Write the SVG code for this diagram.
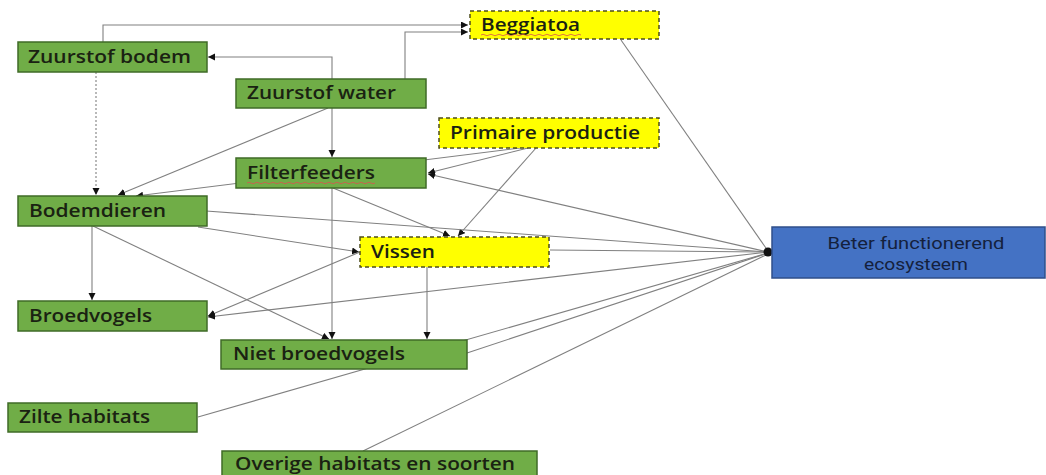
<svg xmlns="http://www.w3.org/2000/svg" width="1046" height="475" viewBox="0 0 1046 475">
<style>
.g{fill:#70ad47;stroke:#3f6b27;stroke-width:1.5}
.y{fill:#ffff00;stroke:#4d4d1a;stroke-width:1.5;stroke-dasharray:4 3}
.b{fill:#4472c4;stroke:#2f4f8a;stroke-width:1.5}
.t{font-family:"Open Sans","Liberation Sans",sans-serif;font-size:18px;font-weight:600;fill:#1a2212}
.bt{font-family:Roboto,"Liberation Sans",sans-serif;font-size:17px;fill:#14213d;text-anchor:middle}
.c{fill:none;stroke:#808080;stroke-width:1.1}
.a{marker-end:url(#ah)}
.d{stroke-dasharray:2 2}
.sp{fill:none;stroke:#d9534f;stroke-width:0.8}
</style>
<defs>
<marker id="ah" markerUnits="userSpaceOnUse" markerWidth="8" markerHeight="8" refX="7" refY="3.5" orient="auto">
<path d="M0,0 L7,3.5 L0,7 Z" fill="#111"/>
</marker>
</defs>
<rect width="1046" height="475" fill="#ffffff"/>
<g id="connectors">
<path class="c a" d="M103,42 V25 H468"/>
<path class="c a" d="M405,79 V32 H468"/>
<path class="c a" d="M332,79 V57 H208"/>
<path class="c a" d="M332,108 V157"/>
<path class="c a" d="M328,108 L118,195"/>
<path class="c a d" d="M96,72 V195"/>
<path class="c a" d="M520,148 L136,196"/>
<path class="c a" d="M528,148 L428,173"/>
<path class="c a" d="M536,148 L458,236"/>
<path class="c a" d="M768,252 L428,174"/>
<path class="c a" d="M333,188 L450,236"/>
<path class="c a" d="M332,188 V339"/>
<path class="c" d="M206,211 L768,252"/>
<path class="c a" d="M198,227 L359,252"/>
<path class="c a" d="M92,226 V300"/>
<path class="c a" d="M93,226 L329,339"/>
<path class="c a" d="M360,252 L208,316"/>
<path class="c a" d="M768,252 L208,317"/>
<path class="c a" d="M427,267 V339"/>
<path class="c" d="M550,250 L768,252"/>
<path class="c" d="M621,40 L768,251"/>
<path class="c" d="M467,353 L768,253"/>
<path class="c" d="M198,417 L768,253"/>
<path class="c" d="M363,451 L768,254"/>
<circle cx="768" cy="252" r="4.5" fill="#111"/>
</g>
<g id="n-zuurstof-bodem"><rect class="g" x="18" y="42" width="189" height="30"/><text class="t" x="28" y="63" textLength="163" lengthAdjust="spacingAndGlyphs">Zuurstof bodem</text></g>
<g id="n-zuurstof-water"><rect class="g" x="236" y="79" width="190" height="29"/><text class="t" x="247" y="99" textLength="149" lengthAdjust="spacingAndGlyphs">Zuurstof water</text></g>
<g id="n-filterfeeders"><rect class="g" x="236" y="158" width="190" height="30"/><text class="t" x="247" y="179" textLength="128" lengthAdjust="spacingAndGlyphs">Filterfeeders</text><path class="sp" d="M247,183 q2,-1.5 4,0 t4,0 t4,0 t4,0 t4,0 t4,0 t4,0 t4,0 t4,0 t4,0 t4,0 t4,0 t4,0 t4,0 t4,0 t4,0 t4,0 t4,0 t4,0 t4,0 t4,0 t4,0 t4,0 t4,0 t4,0 t4,0 t4,0 t4,0 t4,0 t4,0 t4,0 t4,0"/></g>
<g id="n-bodemdieren"><rect class="g" x="18" y="196" width="189" height="30"/><text class="t" x="29" y="217" textLength="137" lengthAdjust="spacingAndGlyphs">Bodemdieren</text></g>
<g id="n-beggiatoa"><rect class="y" x="470" y="11" width="189" height="28"/><text class="t" x="481" y="31" textLength="99" lengthAdjust="spacingAndGlyphs">Beggiatoa</text><path class="sp" d="M481,35 q2,-1.5 4,0 t4,0 t4,0 t4,0 t4,0 t4,0 t4,0 t4,0 t4,0 t4,0 t4,0 t4,0 t4,0 t4,0 t4,0 t4,0 t4,0 t4,0 t4,0 t4,0 t4,0 t4,0 t4,0 t4,0 t4,0"/></g>
<g id="n-primaire-productie"><rect class="y" x="439" y="118" width="220" height="30"/><text class="t" x="450" y="139" textLength="190" lengthAdjust="spacingAndGlyphs">Primaire productie</text></g>
<g id="n-vissen"><rect class="y" x="360" y="237" width="189" height="30"/><text class="t" x="371" y="258" textLength="64" lengthAdjust="spacingAndGlyphs">Vissen</text></g>
<g id="n-broedvogels"><rect class="g" x="18" y="301" width="189" height="30"/><text class="t" x="29" y="322" textLength="123" lengthAdjust="spacingAndGlyphs">Broedvogels</text></g>
<g id="n-niet-broedvogels"><rect class="g" x="221" y="340" width="246" height="29"/><text class="t" x="233" y="360" textLength="172" lengthAdjust="spacingAndGlyphs">Niet broedvogels</text></g>
<g id="n-zilte-habitats"><rect class="g" x="8" y="403" width="189" height="29"/><text class="t" x="19" y="423" textLength="131" lengthAdjust="spacingAndGlyphs">Zilte habitats</text></g>
<g id="n-overige"><rect class="g" x="222" y="451" width="315" height="30"/><text class="t" x="235" y="470" textLength="280" lengthAdjust="spacingAndGlyphs">Overige habitats en soorten</text></g>
<g id="n-beter"><rect class="b" x="772" y="227" width="273" height="51"/><text class="bt" x="916" y="249" textLength="177" lengthAdjust="spacingAndGlyphs">Beter functionerend</text><text class="bt" x="916" y="270" textLength="104" lengthAdjust="spacingAndGlyphs">ecosysteem</text></g>
</svg>
